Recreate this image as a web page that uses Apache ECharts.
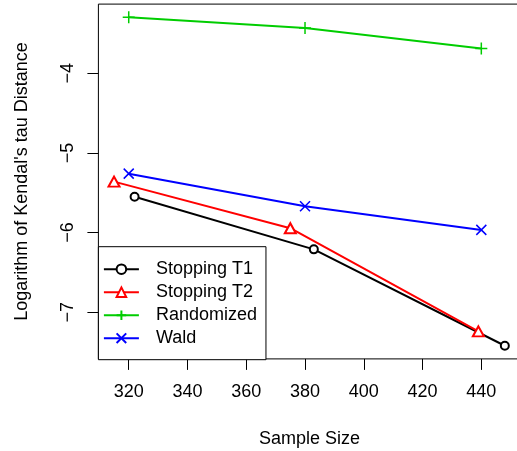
<!DOCTYPE html>
<html><head><meta charset="utf-8">
<script src="https://cdn.jsdelivr.net/npm/echarts@6/dist/echarts.min.js"></script>
<style>html,body{margin:0;padding:0;background:#fff}#c{width:517px;height:451px}</style>
</head><body><div id="c"></div>
<script>
var seriesNames = ['Stopping T1', 'Stopping T2', 'Randomized', 'Wald'];
var t1X = [322, 383, 448];
var t1Y = [-5.55, -6.21, -7.42];
var t2X = [315, 375, 439];
var t2Y = [-5.36, -5.945, -7.24];
var randX = [320, 380, 440];
var randY = [-3.297, -3.432, -3.69];
var waldX = [320, 380, 440];
var waldY = [-5.26, -5.67, -5.966];
var xTicks = [320, 340, 360, 380, 400, 420, 440];
var yTicks = [-7, -6, -5, -4];

function pairs(xs, ys) { return xs.map(function (x, i) { return [x, ys[i]]; }); }

var FONT = 'Liberation Sans';
var chart = echarts.init(document.getElementById('c'), null, {renderer: 'canvas'});
var plus = 'path://M0,5L10,5M5,0L5,10';
var cross = 'path://M0,0L10,10M10,0L0,10';
function mk(name, data, color, symbol, size) {
  return {
    name: name, type: 'line', data: data, symbol: symbol, symbolSize: size,
    showAllSymbol: true, animation: false,
    lineStyle: {color: color, width: 2},
    itemStyle: {color: color, borderColor: color, borderWidth: 1.5},
    emphasis: {disabled: true}
  };
}
chart.setOption({
  animation: false,
  textStyle: {fontFamily: FONT},
  grid: {left: 98.4, width: 422.05, top: 4.1, bottom: 92.1, show: true,
         outerBoundsMode: 'none', containLabel: false,
         borderColor: '#000', borderWidth: 1, backgroundColor: 'transparent'},
  xAxis: {
    type: 'value', min: 309.68, max: 453.32,
    name: 'Sample Size', nameLocation: 'middle', nameGap: 71,
    nameTextStyle: {fontFamily: FONT, fontSize: 18, color: '#000'},
    axisLine: {show: false},
    axisTick: {show: true, customValues: xTicks, length: 11, lineStyle: {color: '#000'}},
    axisLabel: {customValues: xTicks, margin: 24, fontFamily: FONT, fontSize: 18, color: '#000'},
    splitLine: {show: false}
  },
  yAxis: {
    type: 'value', min: -7.585, max: -3.132,
    name: "Logarithm of Kendal's tau Distance", nameLocation: 'middle', nameGap: 67, nameRotate: 90,
    nameTextStyle: {fontFamily: FONT, fontSize: 18, color: '#000'},
    axisLine: {show: false},
    axisTick: {show: true, customValues: yTicks, length: 11, lineStyle: {color: '#000'}},
    axisLabel: {customValues: yTicks, rotate: 90, margin: 21, fontFamily: FONT, fontSize: 18, color: '#000',
                formatter: function (v) { return String(v).replace('-', '\u2212'); }},
    splitLine: {show: false}
  },
  legend: {
    data: seriesNames, orient: 'vertical', left: 98.4, top: 246.7,
    padding: [13.5, 9, 12.5, 4.5], itemGap: 5, itemWidth: 35, itemHeight: 12,
    backgroundColor: '#fff', borderColor: '#000', borderWidth: 1, borderRadius: 0,
    selectedMode: false,
    textStyle: {fontFamily: FONT, fontSize: 18, color: '#000', padding: [0, 0, 0, 12]}
  },
  series: [
    mk(seriesNames[0], pairs(t1X, t1Y), '#000000', 'emptyCircle', 8),
    mk(seriesNames[1], pairs(t2X, t2Y), '#ff0000', 'emptyTriangle', [11, 10]),
    mk(seriesNames[2], pairs(randX, randY), '#00cd00', plus, 12),
    mk(seriesNames[3], pairs(waldX, waldY), '#0000ff', cross, 10)
  ]
});
</script></body></html>
